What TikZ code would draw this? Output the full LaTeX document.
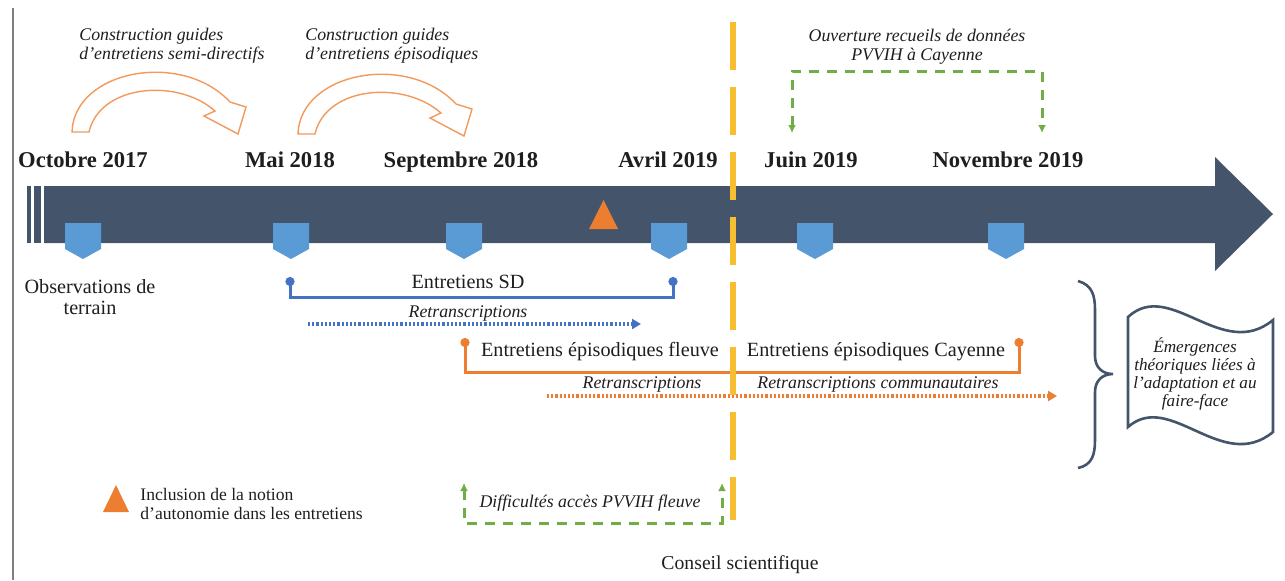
\documentclass[tikz,border=0pt]{standalone}
\usepackage{fontspec}
\setmainfont{Liberation Serif}
\usetikzlibrary{arrows.meta}
\definecolor{slate}{HTML}{44546A}
\definecolor{mileblue}{HTML}{5B9BD5}
\definecolor{tri}{HTML}{ED7D31}
\definecolor{brblue}{HTML}{4472C4}
\definecolor{brorange}{HTML}{ED7D31}
\definecolor{grn}{HTML}{70AD47}
\definecolor{yel}{HTML}{F8BE32}
\definecolor{curv}{HTML}{F29A5C}
\definecolor{txt}{HTML}{1E1E1E}
\definecolor{border}{HTML}{808080}
\begin{document}
\begin{tikzpicture}[x=0.5pt,y=-0.5pt,
  every node/.style={inner sep=0pt, text=txt},
  date/.style={font=\bfseries\fontsize{11.3}{13}\selectfont, anchor=base},
  itl/.style={font=\itshape\fontsize{8.9}{9.5}\selectfont},
  lbl/.style={font=\fontsize{10.1}{10.8}\selectfont},
  milestone/.pic={\fill[mileblue] (-18,223) -- (18,223) -- (18,249) -- (0,259) -- (-18,249) -- cycle;},
  bentarrow/.pic={\draw[curv, line width=0.7pt, fill=white]
     (72,132) .. controls (74,70) and (182,50) .. (230,102) -- (246,107) -- (238,134)
     -- (204,116) -- (215,111) .. controls (178,78) and (100,84) .. (89,132) -- cycle;},
  bracketblue/.style={brblue, line width=1.5pt, {Circle[length=4.5pt]}-{Circle[length=4.5pt]}},
  bracketorange/.style={brorange, line width=1.5pt, {Circle[length=4.5pt]}-{Circle[length=4.5pt]}},
  dotline/.style={line width=1.7pt, dash pattern=on 1.1pt off 1pt, -{Triangle[length=4.5pt,width=5pt]}},
  greendash/.style={grn, line width=1.5pt, dash pattern=on 5pt off 4pt, {Latex[length=4pt,width=4pt]}-{Latex[length=4pt,width=4pt]}},
  yellowdash/.style={yel, line width=2.6pt, dash pattern=on 24pt off 8.5pt},
  slateline/.style={slate, line width=1.3pt}
]
\useasboundingbox (0,0) rectangle (1285,580);
% left border
\draw[border, line width=1pt] (13,8) -- (13,580);

% main arrow
\fill[slate] (44,186) -- (1215,186) -- (1215,157) -- (1273,214) -- (1215,271) -- (1215,243) -- (44,243) -- cycle;
\fill[slate] (27,186) rectangle (31,243);
\fill[slate] (34,186) rectangle (41,243);

% milestones
\foreach \cx in {83,291,464,669,815,1006} \pic at (\cx,0) {milestone};

% orange triangle on timeline
\fill[tri] (589,229) -- (618,229) -- (603.5,200) -- cycle;

% curved arrows
\pic at (0,0) {bentarrow};
\pic at (226,2) {bentarrow};

% top labels
\node[itl, align=left, anchor=west] (cg1) at (79,46) {Construction guides\\d'entretiens semi-directifs};
\node[itl, align=left, anchor=west] (cg2) at (305,46) {Construction guides\\d'entretiens épisodiques};
\node[itl, align=center] (ouv) at (917,47) {Ouverture recueils de données\\PVVIH à Cayenne};

% dates
\node[date] (d1) at (83,167) {Octobre 2017};
\node[date] (d2) at (290,167) {Mai 2018};
\node[date] (d3) at (461,167) {Septembre 2018};
\node[date] (d4) at (668,167) {Avril 2019};
\node[date] (d5) at (811,167) {Juin 2019};
\node[date] (d6) at (1008,167) {Novembre 2019};

% green top bracket
\coordinate (gA) at (792,133);
\coordinate (gTop) at (917,71);
\coordinate (gB) at (1042,133);
\draw[greendash] (gA) |- (gTop) -| (gB);

% observations
\node[lbl, align=center] (obs) at (90,297) {Observations de\\terrain};

% blue bracket
\coordinate (sdA) at (290,277);
\coordinate (sdB) at (673,277);
\draw[bracketblue] (sdA) -- ++(0,20) -| (sdB);
\node[lbl] (sd) at (468,282) {Entretiens SD};

% blue dotted
\coordinate (rbA) at (308,324);
\coordinate (rbB) at (641,324);
\draw[dotline, brblue] (rbA) -- (rbB);
\node[itl] (rb) at (468,313) {Retranscriptions};

% orange bracket
\coordinate (epA) at (465,338);
\coordinate (epB) at (1019,338);
\draw[bracketorange] (epA) -- ++(0,34) -| (epB);
\node[lbl] (epf) at (600,352) {Entretiens épisodiques fleuve};
\node[lbl] (epc) at (876,352) {Entretiens épisodiques Cayenne};

% orange dotted
\coordinate (roA) at (547,396);
\coordinate (roB) at (1057,396);
\draw[dotline, brorange] (roA) -- (roB);
\node[itl] (ro1) at (642,384) {Retranscriptions};
\node[itl] (ro2) at (878,384) {Retranscriptions communautaires};

% green bottom bracket
\coordinate (gbA) at (464,483);
\coordinate (gbM) at (593,523);
\coordinate (gbB) at (722,483);
\draw[greendash] (gbA) |- (gbM) -| (gbB);
\node[itl] (diff) at (590,503) {Difficultés accès PVVIH fleuve};

% legend
\fill[tri] (103,512) -- (129,512) -- (116,485) -- cycle;
\node[font=\fontsize{8.8}{9.2}\selectfont, align=left, anchor=west] (leg) at (140,504) {Inclusion de la notion\\d'autonomie dans les entretiens};

% conseil
\node[font=\fontsize{9.85}{11}\selectfont] (cons) at (740,565) {Conseil scientifique};

% yellow dashed line
\draw[yellowdash] (733,22) -- (733,520);

% brace
\draw[slateline] (1078,281) .. controls (1092,285) and (1095,295) .. (1095,310) -- (1095,356)
  .. controls (1095,367) and (1102,374) .. (1113,374)
  .. controls (1102,374) and (1095,381) .. (1095,392) -- (1095,440)
  .. controls (1095,455) and (1092,465) .. (1078,468);

% wave shape
\draw[slateline, fill=white] (1128,317) .. controls (1170,278) and (1222,362) .. (1273,320)
  -- (1273,432) .. controls (1222,474) and (1170,390) .. (1128,427) -- cycle;
\node[itl, align=center, font=\itshape\fontsize{8.6}{8.9}\selectfont] (emerg) at (1195,374) {Émergences\\théoriques liées à\\l'adaptation et au\\faire-face};
\end{tikzpicture}
\end{document}
